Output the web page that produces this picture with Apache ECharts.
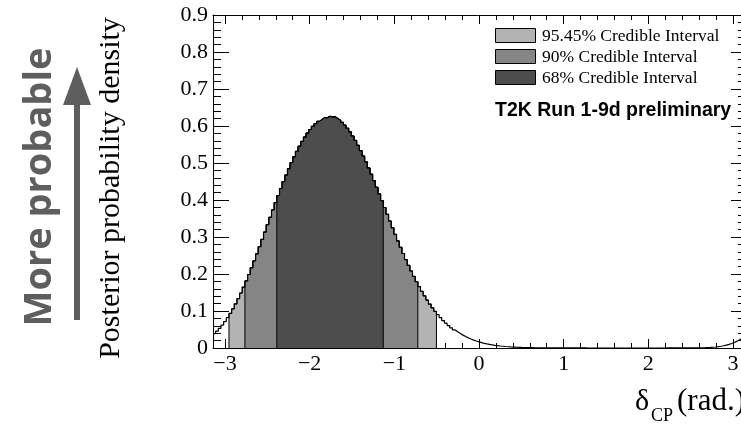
<!DOCTYPE html>
<html><head><meta charset="utf-8">
<script src="https://cdn.jsdelivr.net/npm/echarts@6/dist/echarts.min.js"></script>
<style>html,body{margin:0;padding:0;background:#fff}#c{width:741px;height:425px}</style>
</head><body><div id="c"></div>
<script>
// ---- data ----
const binLow = -Math.PI, binHigh = Math.PI;
const density = [
0.0386,0.0456,0.0533,0.0620,0.0715,0.0820,0.0935,0.1059,0.1193,0.1335,
0.1486,0.1646,0.1812,0.1986,0.2167,0.2353,0.2543,0.2737,0.2934,0.3133,
0.3333,0.3533,0.3731,0.3928,0.4121,0.4311,0.4495,0.4674,0.4845,0.5010,
0.5167,0.5315,0.5453,0.5582,0.5701,0.5808,0.5905,0.5990,0.6063,0.6125,
0.6178,0.6230,0.6222,0.6265,0.6240,0.6252,0.6198,0.6156,0.6097,0.6024,
0.5938,0.5840,0.5730,0.5609,0.5477,0.5336,0.5187,0.5030,0.4866,0.4696,
0.4522,0.4344,0.4163,0.3981,0.3797,0.3614,0.3431,0.3249,0.3070,0.2894,
0.2722,0.2554,0.2391,0.2233,0.2081,0.1934,0.1793,0.1659,0.1532,0.1411,
0.1296,0.1188,0.1086,0.0991,0.0902,0.0819,0.0742,0.0671,0.0605,0.0544,
0.0488,0.0437,0.0390,0.0348,0.0309,0.0274,0.0242,0.0214,0.0189,0.0166,
0.0145,0.0127,0.0111,0.0097,0.0084,0.0073,0.0063,0.0054,0.0047,0.0040,
0.0034,0.0029,0.0025,0.0021,0.0018,0.0015,0.0013,0.0011,0.0009,0.0008,
0.0006,0.0005,0.0004,0.0004,0.0003,0.0002,0.0002,0.0002,0.0001,0.0001,
0.0001,0.0001,0.0001,0.0001,0.0001,0.0001,0.0001,0.0001,0.0001,0.0001,
0,0,0,0,0,0,0,0,0,0,
0,0,0,0,0,0,0,0,0,0,
0,0,0,0,0,0,0,0,0,0,
0.0001,0.0001,0.0001,0.0001,0.0001,0.0001,0.0001,0.0001,0.0001,0.0001,
0.0002,0.0003,0.0004,0.0006,0.0008,0.0011,0.0015,0.0020,0.0027,0.0036,
0.0047,0.0060,0.0077,0.0097,0.0121,0.0150,0.0185,0.0225,0.0271,0.0325
];
const ci95 = [-2.953, -0.503];
const ci90 = [-2.765, -0.723];
const ci68 = [-2.388, -1.131];
const xTickValues = [-3, -2, -1, 0, 1, 2, 3];
const xTickLabels = ['\u22123', '\u22122', '\u22121', '0', '1', '2', '3'];
const yTickLabels = ['0', '0.1', '0.2', '0.3', '0.4', '0.5', '0.6', '0.7', '0.8', '0.9'];
const legendLabels = ['95.45% Credible Interval', '90% Credible Interval', '68% Credible Interval'];
const yTitle = 'Posterior probability density';
const sideNote = 'More probable';
const tagText = 'T2K Run 1-9d preliminary';

// ---- build ----
const shades = ['#b3b3b3', '#858585', '#4d4d4d'];
const nBins = density.length;
const bw = (binHigh - binLow) / nBins;
const edge = i => binLow + i * bw;

function regionPoints(range) {
  let first = -1, last = -1;
  for (let i = 0; i < nBins; i++) {
    const c = edge(i) + bw / 2;
    if (c >= range[0] && c <= range[1]) { if (first < 0) first = i; last = i; }
  }
  const pts = [[edge(first), 0]];
  for (let i = first; i <= last; i++) pts.push([edge(i), density[i]]);
  pts.push([edge(last + 1), 0]);
  return pts;
}
const outline = density.map((v, i) => [edge(i), v]);
outline.push([binHigh, density[nBins - 1]]);

const xMinor = [];
for (let k = -15; k <= 15; k++) if (k % 5 !== 0) xMinor.push(+(k * 0.2).toFixed(1));

const black = '#000';
function xAx(pos, values, len, withLine, withLabel) {
  return {
    type: 'value', position: pos, min: binLow, max: binHigh,
    axisLine: { show: withLine, onZero: false, lineStyle: { color: black, width: 1 } },
    axisTick: { show: true, inside: true, length: len, customValues: values, lineStyle: { color: black, width: 1 } },
    axisLabel: withLabel ? {
      show: true, customValues: xTickValues, margin: 5,
      formatter: v => xTickLabels[xTickValues.indexOf(Math.round(v))],
      color: black, fontFamily: 'Liberation Serif', fontSize: 22
    } : { show: false },
    splitLine: { show: false }
  };
}
function yAx(pos, withLabel, len) {
  return {
    type: 'value', position: pos, min: 0, max: 0.9, interval: 0.1,
    axisLine: { show: true, onZero: false, lineStyle: { color: black, width: 1 } },
    axisTick: { show: true, inside: true, length: len, lineStyle: { color: black, width: 1 } },
    minorTick: { show: true, splitNumber: 5, length: len / 2, lineStyle: { color: black, width: 1 } },
    axisLabel: withLabel ? {
      show: true, margin: 5, showMinLabel: true, showMaxLabel: true,
      formatter: v => yTickLabels[Math.round(v * 10)],
      color: black, fontFamily: 'Liberation Serif', fontSize: 22
    } : { show: false },
    splitLine: { show: false }
  };
}

const regionSeries = [ci95, ci90, ci68].map((r, k) => ({
  type: 'line', name: legendLabels[k], step: 'end', symbol: 'none',
  xAxisIndex: 0, yAxisIndex: 0, silent: true,
  lineStyle: { color: black, width: 1 },
  areaStyle: { color: shades[k], opacity: 1 },
  data: regionPoints(r), z: 2 + k
}));

const legendGraphics = [];
legendLabels.forEach((t, k) => {
  legendGraphics.push({ type: 'rect', shape: { x: 495.5, y: 28.5 + k * 21, width: 40, height: 14 },
    style: { fill: shades[k], stroke: black, lineWidth: 1 }, z: 100 });
  legendGraphics.push({ type: 'text', x: 542, y: 36 + k * 21,
    style: { text: t, font: '17.5px "Liberation Serif"', fill: black, align: 'left', verticalAlign: 'middle' }, z: 100 });
});

const chart = echarts.init(document.getElementById('c'), null, { renderer: 'canvas' });
chart.setOption({
  animation: false,
  backgroundColor: '#fff',
  grid: { left: 213, top: 15, width: 532, height: 333, outerBoundsMode: 'none', containLabel: false },
  xAxis: [
    xAx('bottom', xTickValues, 9, true, true),
    xAx('bottom', xMinor, 5, false, false),
    xAx('top', xTickValues, 9, true, false),
    xAx('top', xMinor, 5, false, false)
  ],
  yAxis: [yAx('left', true, 16), yAx('right', false, 14)],
  series: regionSeries.concat([{
    type: 'line', name: 'posterior', step: 'end', symbol: 'none', silent: true,
    xAxisIndex: 0, yAxisIndex: 0,
    lineStyle: { color: black, width: 1.2 },
    data: outline, z: 10
  }]),
  graphic: legendGraphics.concat([
    { type: 'text', x: 495, y: 111,
      style: { text: tagText, font: 'bold 19.5px "Liberation Sans"', fill: black, align: 'left', verticalAlign: 'middle' }, z: 100 },
    { type: 'text', x: 111, y: 188, rotation: Math.PI / 2,
      style: { text: yTitle, font: '30px "Liberation Serif"', fill: black, align: 'center', verticalAlign: 'middle' } },
    { type: 'text', x: 40, y: 187, rotation: Math.PI / 2,
      style: { text: sideNote, font: 'bold 38px "Open Sans"', fill: '#5e5e5e', align: 'center', verticalAlign: 'middle' } },
    { type: 'rect', shape: { x: 74, y: 100, width: 6, height: 220 }, style: { fill: '#5e5e5e' } },
    { type: 'polygon', shape: { points: [[63, 105], [91, 105], [77, 67]] }, style: { fill: '#5e5e5e' } },
    { type: 'text', x: 635, y: 402,
      style: { text: '\u03b4', font: '30px "Liberation Serif"', fill: black, align: 'left', verticalAlign: 'middle' } },
    { type: 'text', x: 651, y: 416,
      style: { text: 'CP', font: '18px "Liberation Serif"', fill: black, align: 'left', verticalAlign: 'middle' } },
    { type: 'text', x: 677, y: 402,
      style: { text: '(rad.)', font: '31px "Liberation Serif"', fill: black, align: 'left', verticalAlign: 'middle' } }
  ])
});
</script></body></html>
